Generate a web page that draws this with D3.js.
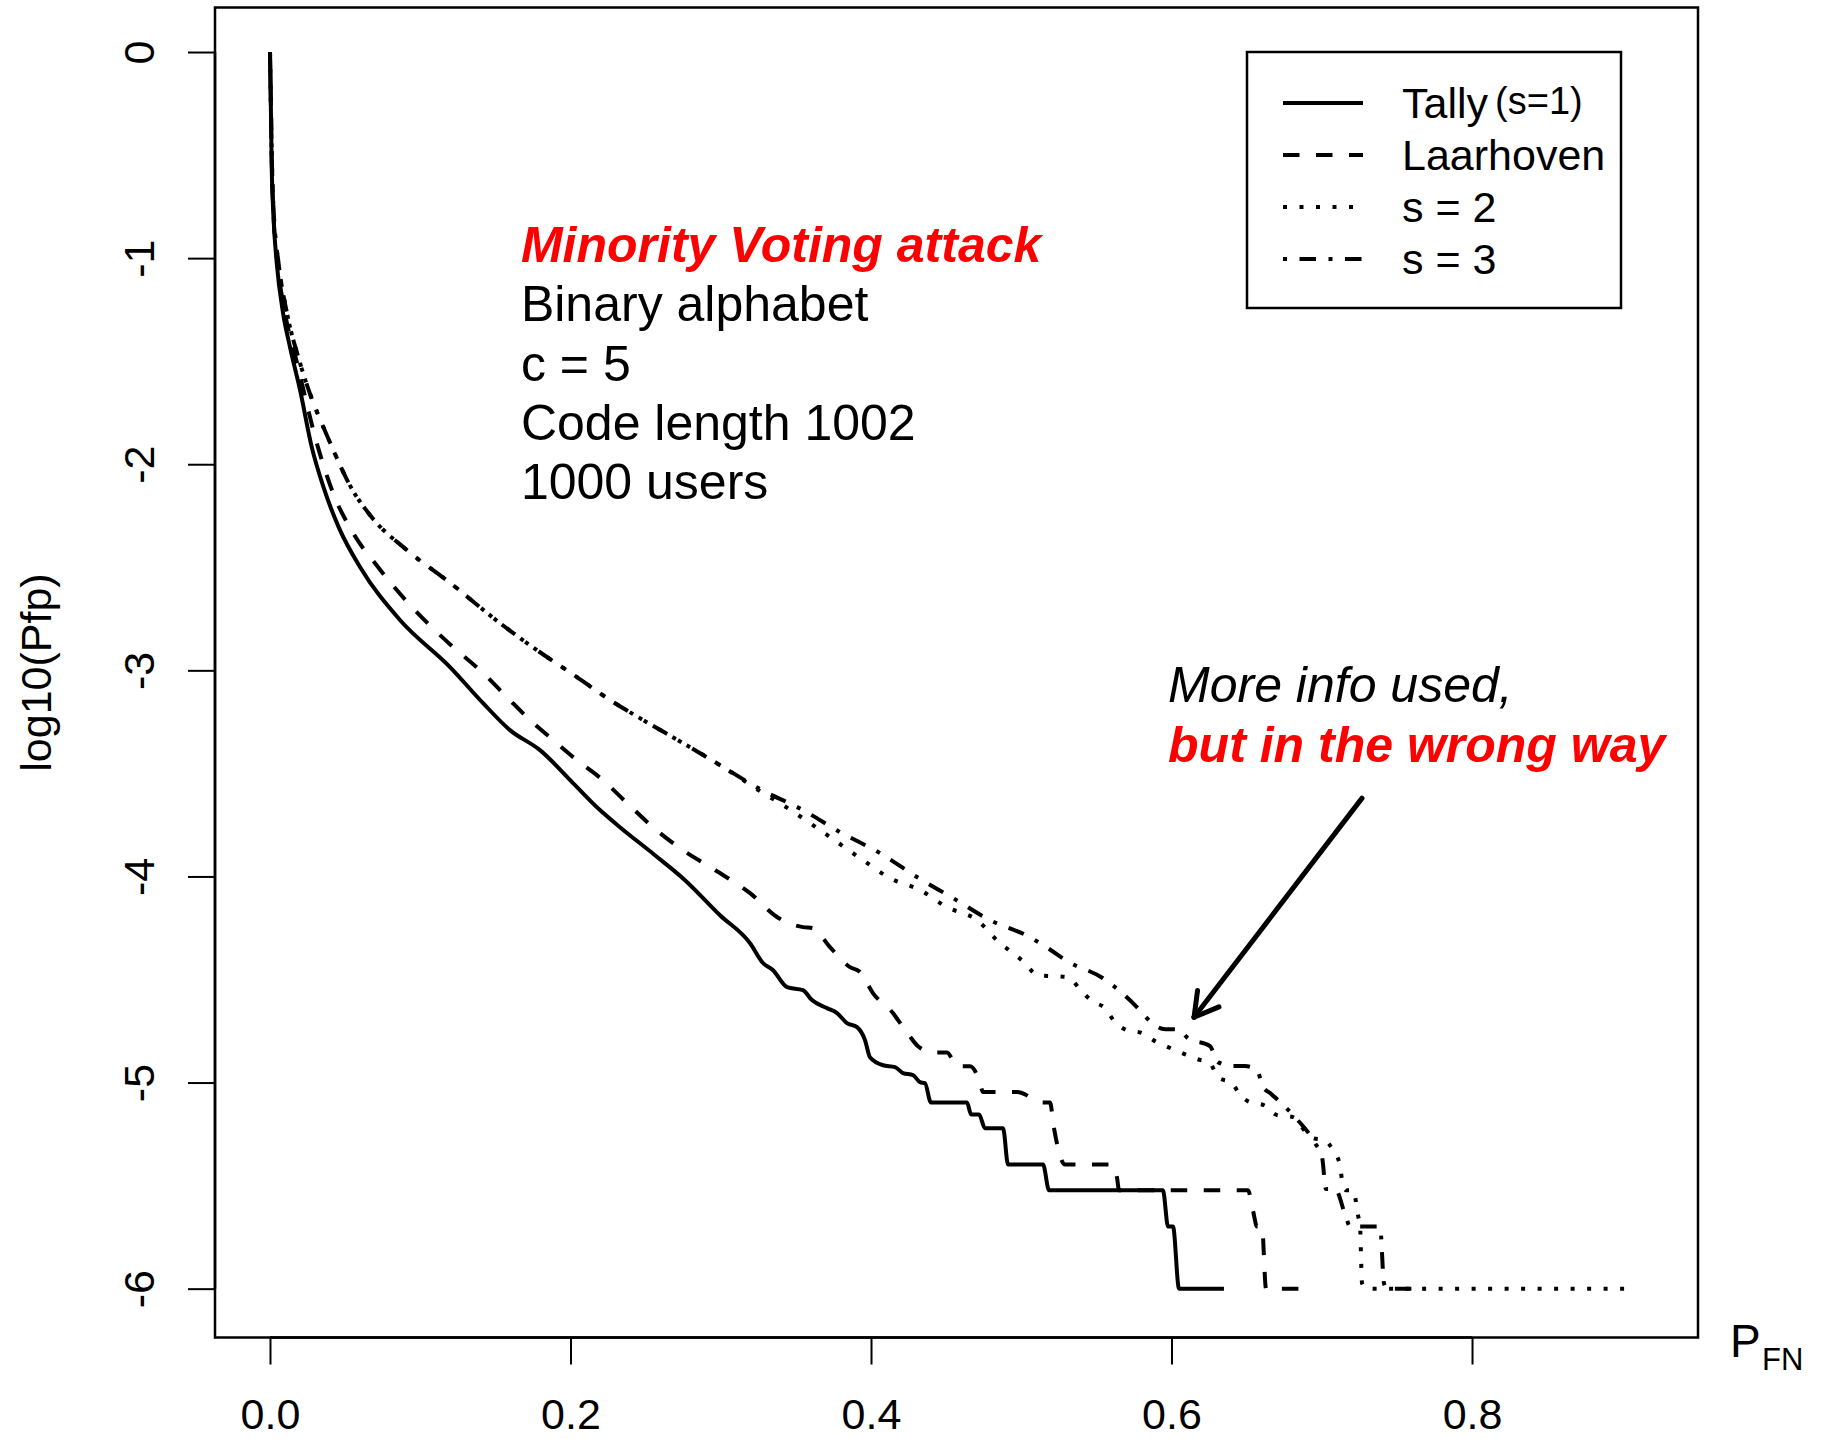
<!DOCTYPE html>
<html lang="en">
<head>
<meta charset="utf-8">
<style type="text/css">
body { margin: 0; background: #fff; }
text { font-family: "Liberation Sans", Arial, Helvetica, sans-serif; fill: #000; }
.curve { fill: none; stroke: #000; stroke-width: 4px; stroke-linejoin: round; stroke-linecap: butt; }
</style>
</head>
<body>
<svg width="1821" height="1439"></svg>
<script src="https://d3js.org/d3.v7.min.js"></script>
<script>
// [P_FN, log10(Pfp)]
var tally = [[0,0],[0.0005,-0.218],[0.0011,-0.539],[0.0022,-0.781],[0.0045,-1.024],[0.0087,-1.267],[0.0133,-1.431],[0.02,-1.64],[0.0278,-1.917],[0.036,-2.12],[0.046,-2.31],[0.06,-2.5],[0.0865,-2.756],[0.1198,-2.984],[0.1418,-3.159],[0.1597,-3.29],[0.1797,-3.387],[0.2017,-3.547],[0.2196,-3.678],[0.2329,-3.761],[0.2562,-3.897],[0.2762,-4.018],[0.2995,-4.188],[0.3195,-4.324],[0.3281,-4.42],[0.3348,-4.455],[0.3441,-4.537],[0.3547,-4.552],[0.3607,-4.6],[0.3707,-4.639],[0.3774,-4.663],[0.384,-4.712],[0.3907,-4.731],[0.396,-4.794],[0.3993,-4.877],[0.408,-4.916],[0.416,-4.925],[0.4213,-4.954],[0.428,-4.964],[0.4326,-4.998],[0.4359,-5.003],[0.4399,-5.097],[0.4639,-5.097],[0.4666,-5.155],[0.4719,-5.155],[0.4759,-5.222],[0.4879,-5.222],[0.4912,-5.398],[0.5145,-5.398],[0.5185,-5.523],[0.5943,-5.523],[0.5977,-5.699],[0.601,-5.699],[0.605,-6],[0.6349,-6]];

var laarhoven = [[0,0],[0.0005,-0.218],[0.0012,-0.539],[0.0023,-0.781],[0.005,-1.024],[0.01,-1.267],[0.018,-1.509],[0.0319,-1.917],[0.042,-2.14],[0.055,-2.33],[0.072,-2.5],[0.0932,-2.683],[0.1218,-2.887],[0.1418,-3.013],[0.1577,-3.13],[0.173,-3.241],[0.1884,-3.338],[0.2043,-3.436],[0.2216,-3.533],[0.2376,-3.644],[0.2549,-3.761],[0.2729,-3.863],[0.2962,-3.969],[0.3195,-4.081],[0.3374,-4.197],[0.3547,-4.246],[0.3614,-4.251],[0.3727,-4.343],[0.386,-4.44],[0.3927,-4.464],[0.4013,-4.566],[0.4146,-4.663],[0.418,-4.697],[0.4253,-4.77],[0.4313,-4.824],[0.4413,-4.854],[0.4506,-4.854],[0.4572,-4.921],[0.4659,-4.921],[0.4725,-5],[0.4745,-5.046],[0.4972,-5.046],[0.5145,-5.097],[0.5191,-5.097],[0.5218,-5.222],[0.5291,-5.398],[0.5604,-5.398],[0.5637,-5.46],[0.5651,-5.523],[0.6509,-5.523],[0.6542,-5.62],[0.6569,-5.699],[0.6602,-5.699],[0.6629,-6],[0.6909,-6]];

var s2 = [[0,0],[0.0005,-0.218],[0.0013,-0.539],[0.0025,-0.781],[0.0057,-1.024],[0.0113,-1.267],[0.02,-1.509],[0.0413,-1.917],[0.053,-2.1],[0.068,-2.26],[0.09,-2.41],[0.1198,-2.575],[0.1531,-2.771],[0.1777,-2.902],[0.2043,-3.033],[0.2263,-3.144],[0.2483,-3.241],[0.2749,-3.353],[0.3015,-3.469],[0.3261,-3.586],[0.3414,-3.654],[0.3594,-3.741],[0.3774,-3.833],[0.3947,-3.921],[0.4126,-4.008],[0.4326,-4.066],[0.4506,-4.149],[0.4706,-4.212],[0.4859,-4.324],[0.4945,-4.372],[0.5025,-4.42],[0.5105,-4.479],[0.5211,-4.484],[0.5311,-4.489],[0.5391,-4.547],[0.5471,-4.605],[0.5557,-4.639],[0.5624,-4.707],[0.5704,-4.746],[0.5804,-4.76],[0.589,-4.799],[0.5977,-4.828],[0.607,-4.857],[0.617,-4.886],[0.6256,-4.906],[0.6309,-4.974],[0.6403,-5.003],[0.6456,-5.061],[0.6522,-5.095],[0.6616,-5.11],[0.6702,-5.158],[0.6809,-5.168],[0.6895,-5.241],[0.6942,-5.27],[0.7015,-5.279],[0.7075,-5.328],[0.7121,-5.401],[0.7135,-5.474],[0.7161,-5.522],[0.7208,-5.522],[0.7241,-5.643],[0.7255,-5.702],[0.7268,-5.974],[0.7295,-6],[0.9012,-6]];

var s3 = [[0,0],[0.0005,-0.218],[0.0013,-0.539],[0.0025,-0.781],[0.0057,-1.024],[0.0113,-1.267],[0.02,-1.509],[0.0413,-1.917],[0.053,-2.1],[0.068,-2.26],[0.09,-2.41],[0.1198,-2.575],[0.1531,-2.771],[0.1777,-2.902],[0.2043,-3.033],[0.2263,-3.144],[0.2483,-3.241],[0.2749,-3.353],[0.3015,-3.469],[0.3261,-3.576],[0.3547,-3.678],[0.3794,-3.785],[0.406,-3.887],[0.4306,-4.003],[0.4546,-4.105],[0.4792,-4.212],[0.5045,-4.29],[0.5178,-4.348],[0.5305,-4.411],[0.5544,-4.494],[0.5671,-4.566],[0.579,-4.649],[0.587,-4.712],[0.5957,-4.741],[0.6043,-4.741],[0.611,-4.785],[0.6256,-4.823],[0.6309,-4.901],[0.6409,-4.92],[0.6489,-4.92],[0.6569,-4.94],[0.6609,-5.022],[0.6656,-5.051],[0.6809,-5.158],[0.6955,-5.294],[0.7002,-5.362],[0.7028,-5.517],[0.7088,-5.517],[0.7161,-5.653],[0.7188,-5.699],[0.7388,-5.699],[0.7414,-5.974],[0.7434,-6],[0.7687,-6]];

var seriesNames = ["Tally", "Laarhoven", "s = 2", "s = 3"];
var tallyNote = "(s=1)";
var xTicks = [0, 0.2, 0.4, 0.6, 0.8];
var yTicks = [0, -1, -2, -3, -4, -5, -6];
var infoLines = ["Minority Voting attack", "Binary alphabet", "c = 5", "Code length 1002", "1000 users"];
var noteLines = ["More info used,", "but in the wrong way"];
var infoAt = [0.167, -1.019];
var noteAt = [0.5977, -3.154];
var arrowFrom = [0.7268, -3.62];
var arrowTo = [0.615, -4.683];

var allSeries = [tally, laarhoven, s2, s3];
var dashes = [null, "16.5,16.5", "4,12.5", "4,12.5,16.5,12.5"];

var svg = d3.select("svg");

var x = d3.scaleLinear().domain([-0.0366, 0.9504]).range([215, 1698]);
var y = d3.scaleLinear().domain([0.216, -6.237]).range([7.5, 1337.5]);

// plot box
svg.append("rect")
    .attr("x", 215).attr("y", 7.5)
    .attr("width", 1483).attr("height", 1330)
    .attr("fill", "none").attr("stroke", "#000").attr("stroke-width", 2.5);

// x axis
var xAxis = svg.append("g")
    .attr("transform", "translate(0,1337.5)")
    .call(d3.axisBottom(x).tickValues(xTicks).tickSize(27).tickFormat(d3.format(".1f")));
xAxis.select(".domain").remove();
xAxis.selectAll("line").attr("stroke-width", 2);
xAxis.selectAll("text")
    .attr("y", 91.5).attr("dy", null)
    .attr("font-size", 43);
xAxis.append("line")
    .attr("x1", x(xTicks[0])).attr("x2", x(xTicks[xTicks.length - 1]))
    .attr("stroke", "#000").attr("stroke-width", 2.5);

// y axis, labels turned like R does
var yAxis = svg.append("g")
    .attr("transform", "translate(215,0)")
    .call(d3.axisLeft(y).tickValues(yTicks).tickSize(27).tickFormat(function (d) { return String(d); }));
yAxis.select(".domain").remove();
yAxis.selectAll("line").attr("stroke-width", 2);
yAxis.selectAll("text")
    .attr("x", null).attr("dy", null)
    .attr("text-anchor", "middle")
    .attr("transform", "translate(-61,0) rotate(-90)")
    .attr("font-size", 43);
yAxis.append("line")
    .attr("y1", y(yTicks[0])).attr("y2", y(yTicks[yTicks.length - 1]))
    .attr("stroke", "#000").attr("stroke-width", 2.5);

svg.append("text")
    .attr("transform", "translate(51," + (7.5 + 1337.5) / 2 + ") rotate(-90)")
    .attr("text-anchor", "middle")
    .attr("font-size", 43)
    .text("log10(Pfp)");

var xlab = svg.append("text").attr("x", 1730).attr("y", 1357).attr("font-size", 46);
xlab.append("tspan").text("P");
xlab.append("tspan").attr("x", 1762).attr("y", 1370).attr("font-size", 31).text("FN");

// curves
var line = d3.line()
    .curve(d3.curveMonotoneX)
    .x(function (d) { return x(d[0]); })
    .y(function (d) { return y(d[1]); });

svg.selectAll(".curve")
    .data(allSeries)
    .enter()
    .append("path")
    .attr("class", "curve")
    .attr("d", line)
    .attr("stroke-dasharray", function (d, i) { return dashes[i]; });

// legend
var legend = svg.append("g");
legend.append("rect")
    .attr("x", 1247).attr("y", 52)
    .attr("width", 374).attr("height", 256)
    .attr("fill", "#fff").attr("stroke", "#000").attr("stroke-width", 2.5);

var rows = legend.selectAll(".row")
    .data(seriesNames)
    .enter()
    .append("g")
    .attr("class", "row")
    .attr("transform", function (d, i) { return "translate(0," + (103 + i * 52) + ")"; });

rows.append("line")
    .attr("x1", 1283).attr("x2", 1363)
    .attr("stroke", "#000").attr("stroke-width", 4)
    .attr("stroke-dasharray", function (d, i) { return dashes[i]; });

var labels = rows.append("text")
    .attr("x", 1402).attr("y", 15)
    .attr("font-size", 43);
labels.append("tspan").text(function (d) { return d; });
labels.filter(function (d, i) { return i === 0; })
    .append("tspan")
    .attr("dx", 7).attr("dy", -4)
    .attr("font-size", 38)
    .text(tallyNote);

// annotation block
svg.selectAll(".info")
    .data(infoLines)
    .enter()
    .append("text")
    .attr("class", "info")
    .attr("x", x(infoAt[0]))
    .attr("y", function (d, i) { return y(infoAt[1]) + i * 59.3; })
    .attr("font-size", 50)
    .attr("font-weight", function (d, i) { return i === 0 ? "bold" : null; })
    .attr("font-style", function (d, i) { return i === 0 ? "italic" : null; })
    .style("fill", function (d, i) { return i === 0 ? "#ff0000" : "#000"; })
    .text(function (d) { return d; });

svg.selectAll(".note")
    .data(noteLines)
    .enter()
    .append("text")
    .attr("class", "note")
    .attr("x", x(noteAt[0]))
    .attr("y", function (d, i) { return y(noteAt[1]) + i * 60; })
    .attr("font-size", 50)
    .attr("font-style", "italic")
    .attr("font-weight", function (d, i) { return i === 1 ? "bold" : null; })
    .style("fill", function (d, i) { return i === 1 ? "#ff0000" : "#000"; })
    .text(function (d) { return d; });

// arrow with open head
var ax0 = x(arrowFrom[0]), ay0 = y(arrowFrom[1]);
var ax1 = x(arrowTo[0]), ay1 = y(arrowTo[1]);
var ang = Math.atan2(ay0 - ay1, ax0 - ax1);
var headLen = 27, headAng = Math.PI / 6;
var arrow = svg.append("g")
    .attr("stroke", "#000").attr("stroke-width", 5)
    .attr("stroke-linecap", "round").attr("fill", "none");
arrow.append("line").attr("x1", ax0).attr("y1", ay0).attr("x2", ax1).attr("y2", ay1);
[-1, 1].forEach(function (s) {
    arrow.append("line")
        .attr("x1", ax1).attr("y1", ay1)
        .attr("x2", ax1 + headLen * Math.cos(ang + s * headAng))
        .attr("y2", ay1 + headLen * Math.sin(ang + s * headAng));
});
</script>
</body>
</html>
